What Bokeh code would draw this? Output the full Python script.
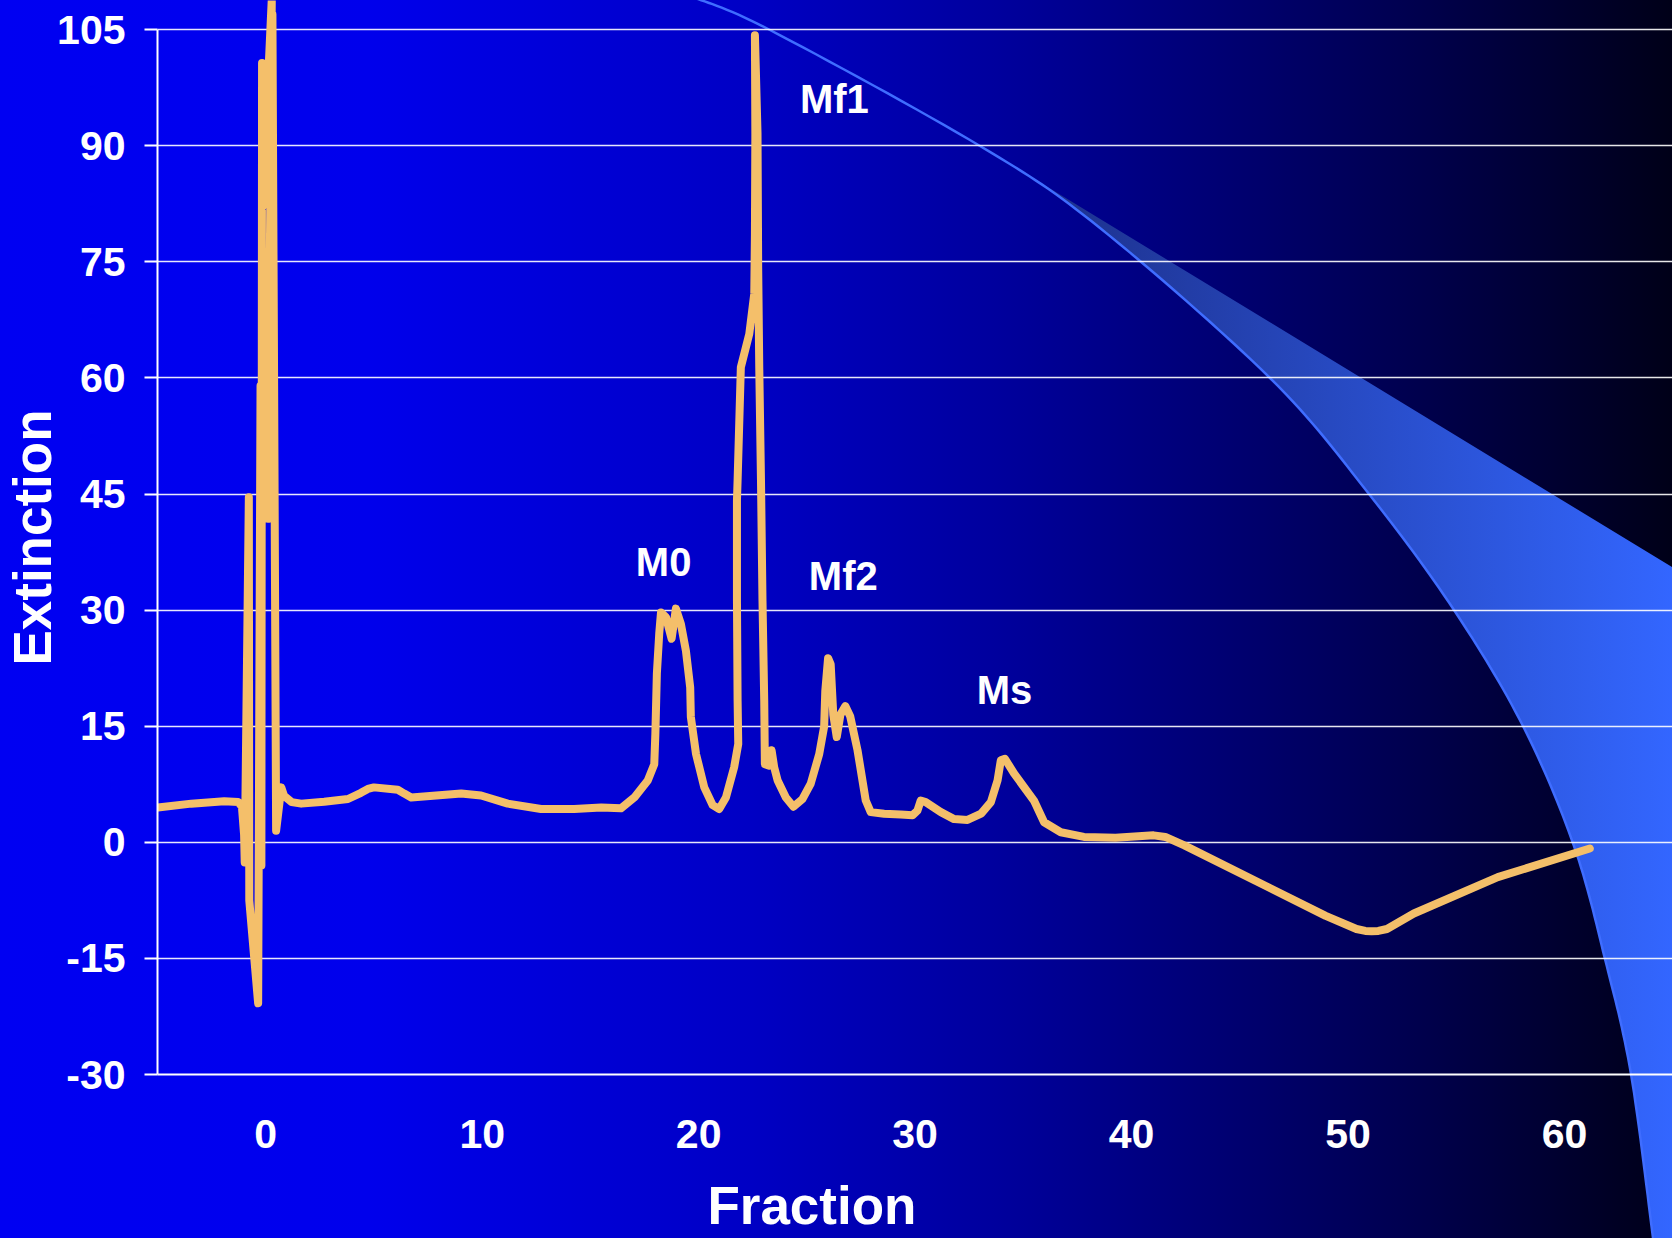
from urllib.parse import quote

from bokeh.plotting import figure
from bokeh.models import Range1d, FixedTicker
from bokeh.embed import file_html
from bokeh.resources import INLINE
from bokeh.core.properties import value

# ---------------- data ----------------
fraction = [
    -4.98, -3.44, -1.92, -1.27, -1.10, -1.00, -0.97, -0.78, -0.76, -0.35,
    -0.24, -0.20, -0.17, -0.16, 0.28, 0.10, 0.31, 0.48, 0.72, 0.85,
    1.20, 1.64, 2.70, 3.80, 4.40, 4.72, 5.00, 6.10, 6.40, 6.72,
    9.03, 9.95, 11.18, 12.72, 14.25, 15.50, 16.41, 17.03, 17.65, 17.95,
    18.00, 18.07, 18.18, 18.26, 18.49, 18.75, 18.95, 19.18, 19.41, 19.61,
    19.64, 19.88, 20.26, 20.65, 20.95, 21.26, 21.64, 21.83, 21.80, 21.77,
    21.77, 21.80, 21.95, 22.34, 22.57, 22.60, 22.62, 22.60, 22.72, 22.75,
    22.80, 22.88, 22.95, 23.03, 23.06, 23.26, 23.37, 23.49, 23.65, 24.03,
    24.38, 24.80, 25.18, 25.57, 25.80, 25.85, 25.98, 26.10, 26.22, 26.38,
    26.55, 26.78, 27.00, 27.34, 27.72, 27.95, 28.57, 29.34, 29.88, 30.11,
    30.26, 30.49, 31.19, 31.80, 32.42, 33.05, 33.50, 33.81, 33.96, 34.15,
    34.57, 35.49, 35.96, 36.73, 37.80, 39.26, 41.02, 41.56, 42.44, 46.32,
    48.97, 50.39, 50.80, 51.09, 51.40, 51.80, 53.04, 56.92, 61.17,
]
extinction = [
    4.5, 5.0, 5.3, 5.2, 4.6, 1.0, -2.6, 44.6, -7.5, -20.8,
    59.0, -3.0, 100.7, 82.1, 109.0, 41.8, 107.0, 1.5, 7.1, 6.0,
    5.2, 5.0, 5.25, 5.6, 6.4, 6.9, 7.1, 6.8, 6.3, 5.8,
    6.3, 6.05, 5.0, 4.3, 4.3, 4.5, 4.4, 5.8, 8.0, 10.1,
    14.0, 21.8, 27.0, 29.7, 29.1, 26.3, 30.2, 28.2, 24.8, 20.0,
    16.2, 11.4, 7.1, 4.8, 4.3, 5.8, 9.7, 12.7, 18.3, 31.2,
    44.2, 46.8, 61.4, 65.7, 70.9, 78.6, 91.6, 104.3, 91.6, 74.3,
    61.4, 46.8, 31.2, 18.3, 10.1, 9.9, 11.9, 9.7, 8.0, 5.8,
    4.6, 5.6, 7.6, 11.4, 15.0, 19.5, 23.8, 23.0, 16.5, 13.6,
    16.5, 17.6, 16.3, 11.9, 5.4, 3.9, 3.7, 3.6, 3.5, 4.1,
    5.4, 5.2, 3.9, 3.0, 2.9, 3.7, 5.2, 8.0, 10.6, 10.8,
    8.9, 5.4, 2.6, 1.3, 0.7, 0.6, 0.9, 0.7, -0.4, -5.8,
    -9.5, -11.2, -11.45, -11.5, -11.45, -11.2, -9.2, -4.5, -0.8,
]
y_ticks = [-30, -15, 0, 15, 30, 45, 60, 75, 90, 105]
x_ticks = [0, 10, 20, 30, 40, 50, 60]

peak_names = ["M0", "Mf1", "Mf2", "Ms"]
peak_label_x = [17.10, 24.68, 25.09, 32.85]
peak_label_y = [36.16, 96.1, 34.35, 19.62]

x_title = "Fraction"
y_title = "Extinction"

# ---------------- layout ----------------
W, H = 1672, 1238
LEFT, BOTTOM = 156, 164
PX_X, PX_Y = 21.66, 7.739
X0, Y0 = -5.0, -30.0
X1 = X0 + (W - LEFT) / PX_X
Y1 = Y0 + (H - BOTTOM) / PX_Y

FONT = "Liberation Sans"
LINE_COLOR = "#F4BF6A"

# ---------------- slide background (CSS, decorative only) ----------------
def catmull(pts, n=16):
    out = []
    for i in range(len(pts) - 1):
        p0 = pts[i - 1] if i > 0 else pts[i]
        p1, p2 = pts[i], pts[i + 1]
        p3 = pts[i + 2] if i + 2 < len(pts) else pts[i + 1]
        for k in range(n):
            t = k / n
            t2, t3 = t * t, t * t * t
            x = 0.5 * (2 * p1[0] + (-p0[0] + p2[0]) * t + (2 * p0[0] - 5 * p1[0] + 4 * p2[0] - p3[0]) * t2 + (-p0[0] + 3 * p1[0] - 3 * p2[0] + p3[0]) * t3)
            y = 0.5 * (2 * p1[1] + (-p0[1] + p2[1]) * t + (2 * p0[1] - 5 * p1[1] + 4 * p2[1] - p3[1]) * t2 + (-p0[1] + 3 * p1[1] - 3 * p2[1] + p3[1]) * t3)
            out.append((x, y))
    out.append(pts[-1])
    return out

arc_pts = [(690, -4), (770, 30), (980, 146), (1100, 228), (1270, 378),
           (1369, 494), (1454, 610), (1523, 726), (1574, 846),
           (1605, 959), (1631, 1074), (1653, 1238), (1656, 1262)]
arc = catmull(arc_pts)
arc_d = "M" + " L".join(f"{x:.1f},{y:.1f}" for x, y in arc)
tip = [pt for pt in arc if pt[0] >= 990]
wedge = [tip[0], (1690, 578), (1690, 1262)] + list(reversed(tip))
wedge_d = "M" + " L".join(f"{x:.1f},{y:.1f}" for x, y in wedge) + " Z"

svg = (
    f'<svg xmlns="http://www.w3.org/2000/svg" width="{W}" height="{H}" viewBox="0 0 {W} {H}">'
    '<defs>'
    '<linearGradient id="bg" gradientUnits="userSpaceOnUse" x1="0" y1="0" x2="1672" y2="0">'
    '<stop offset="0" stop-color="#0000F2"/>'
    '<stop offset="0.22" stop-color="#0000EC"/>'
    '<stop offset="0.45" stop-color="#0000C4"/>'
    '<stop offset="0.60" stop-color="#00009C"/>'
    '<stop offset="0.84" stop-color="#000050"/>'
    '<stop offset="1" stop-color="#000018"/>'
    '</linearGradient>'
    '<linearGradient id="wg" gradientUnits="userSpaceOnUse" x1="990" y1="0" x2="1672" y2="0">'
    '<stop offset="0" stop-color="#1B2C82"/>'
    '<stop offset="1" stop-color="#3366FF"/>'
    '</linearGradient>'
    '</defs>'
    f'<rect x="0" y="0" width="{W}" height="{H}" fill="url(#bg)"/>'
    f'<path d="{wedge_d}" fill="url(#wg)"/>'
    f'<path d="{arc_d}" fill="none" stroke="#3F6DFF" stroke-width="2.5"/>'
    '</svg>'
)
bg_url = 'url("data:image/svg+xml,' + quote(svg, safe="") + '")'

# ---------------- figure ----------------
p = figure(
    width=W, height=H,
    x_range=Range1d(X0, X1), y_range=Range1d(Y0, Y1),
    output_backend="svg", toolbar_location=None,
    min_border_left=LEFT, min_border_right=0, min_border_top=0, min_border_bottom=BOTTOM,
    background_fill_color=None, border_fill_color=None, outline_line_color=None,
)
p.styles = {
    "background-image": bg_url,
    "background-size": "100% 100%",
    "background-repeat": "no-repeat",
}

for ax in p.axis:
    ax.axis_line_color = "white"
    ax.axis_line_width = 2
    ax.major_label_text_color = "white"
    ax.major_label_text_font = FONT
    ax.major_label_text_font_style = "bold"
    ax.major_label_text_font_size = "41px"
    ax.minor_tick_line_color = None
    ax.major_tick_line_color = "white"
    ax.major_tick_line_width = 2
    ax.major_tick_in = 0
    ax.axis_label_text_color = "white"
    ax.axis_label_text_font = FONT
    ax.axis_label_text_font_style = "bold"
    ax.axis_label_text_font_size = "53px"

p.xaxis.ticker = FixedTicker(ticks=x_ticks)
p.xaxis.major_label_overrides = {t: str(t) for t in x_ticks}
p.xaxis.major_tick_out = 0
p.xaxis.major_label_standoff = 45
# label sits left of the frame centre in the reference: pad with no-break spaces
p.xaxis.axis_label = x_title + "\u00a0" * 14
p.xaxis.axis_label_standoff = 25

p.yaxis.ticker = FixedTicker(ticks=y_ticks)
p.yaxis.major_label_overrides = {t: str(t) for t in y_ticks}
p.yaxis.bounds = (-30, 105)
p.yaxis.major_tick_out = 13
p.yaxis.major_label_standoff = 19
p.yaxis.axis_label = y_title
p.yaxis.axis_label_standoff = -8

p.xgrid.visible = False
p.ygrid.ticker = FixedTicker(ticks=y_ticks)
p.ygrid.grid_line_color = "white"
p.ygrid.grid_line_width = 1.3
p.ygrid.grid_line_alpha = 0.9

p.line(fraction, extinction, line_color=LINE_COLOR, line_width=8,
       line_join="round", line_cap="round")

p.text(x=peak_label_x, y=peak_label_y, text=peak_names,
       text_font=value(FONT), text_font_style="bold", text_font_size="40px",
       text_color="white", text_align="left", text_baseline="alphabetic")

open("out.html", "w").write(file_html(p, INLINE))
